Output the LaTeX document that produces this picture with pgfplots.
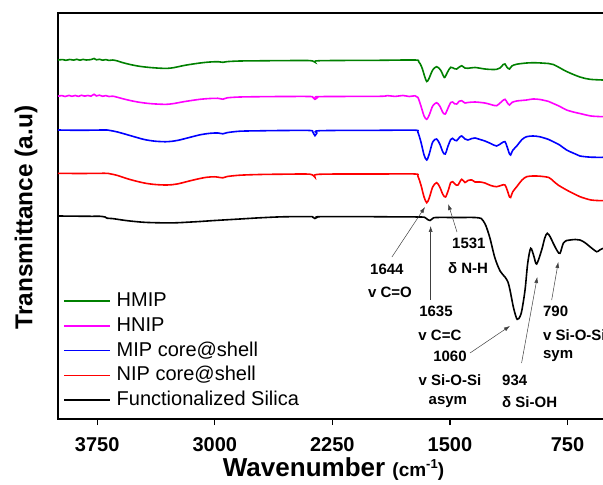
\documentclass[border=0pt]{standalone}
\usepackage{fontspec}
\setmainfont{Liberation Sans}
\usepackage{pgfplots}
\pgfplotsset{compat=1.18}
\usetikzlibrary{arrows.meta}

\definecolor{cHMIP}{RGB}{0,128,0}
\definecolor{cHNIP}{RGB}{255,0,255}
\definecolor{cMIP}{RGB}{0,0,255}
\definecolor{cNIP}{RGB}{255,0,0}

\newcommand{\annfont}{\bfseries\fontsize{15}{17}\selectfont}

\begin{document}
\begin{tikzpicture}
\begin{axis}[
  at={(0,0)}, anchor=south west,
  scale only axis, width=547pt, height=406pt,
  x dir=reverse,
  xmin=511, xmax=4000, ymin=0, ymax=406,
  axis line style={line width=1.3pt, black},
  xtick pos=left,
  xtick={3750,3000,2250,1500,750},
  xticklabels={3750,3000,2250,1500,750},
  xticklabel style={font=\bfseries\fontsize{20}{24}\selectfont, anchor=base, yshift=-26pt},
  ytick=\empty,
  tick align=outside, major tick length=6pt,
  tick style={line width=1.3pt, black},
  clip mode=individual,
  every axis plot/.append style={line width=1.6pt, smooth, tension=0.5},
  legend style={draw=none, fill=none, at={(0.0097,0.314)}, anchor=north west,
    inner sep=0pt, row sep=5.75pt, column sep=5.7pt,
    font=\fontsize{20}{24}\selectfont,
    nodes={inner sep=0pt, text height=15pt, text depth=4pt}},
  legend cell align=left,
  legend image code/.code={\draw[#1, line width=1.5pt] (0pt,0pt) -- (46pt,0pt);},
]
% HMIP
\addplot[cHMIP] coordinates {
(4000,359.0) (3970,359.4) (3950,358.7) (3925,359.5) (3900,358.9) (3880,359.7)
(3860,358.8) (3840,359.6) (3820,359.0) (3790,359.4) (3770,360.5) (3755,359.2)
(3735,359.7) (3715,358.8) (3695,359.4) (3675,358.6) (3650,359.0) (3620,358.0)
(3590,356.5) (3540,354.5) (3480,352.7) (3413,351.5) (3350,350.8) (3305,350.6)
(3260,351.4) (3190,353.7) (3094,356.0) (3030,357.0) (2980,357.3) (2948,356.7)
(2920,357.4) (2839,358.0) (2712,358.2) (2565,358.4) (2393,358.4) (2361,356.8)
(2330,358.3) (1946,358.7) (1723,359.0) (1700,357.5) (1680,352) (1660,342)
(1648,337.5) (1635,340) (1610,349) (1585,352.3) (1560,349) (1540,342.5)
(1532,341.7) (1515,347) (1495,351.7) (1470,350.2) (1457,350) (1440,352)
(1425,353.3) (1405,351) (1385,350.7) (1340,351.5) (1277,350) (1230,349.5)
(1202,349.7) (1180,351) (1160,354.5) (1149,355) (1135,351.5) (1120,350)
(1105,353) (1074,354.8) (1011,356) (970,356.3) (900,355.8) (841,354.5)
(756,347.5) (671,342) (607,339.7) (524,339)
};
% HNIP
\addplot[cHNIP] coordinates {
(4000,322.8) (3975,323.4) (3955,322.5) (3930,323.6) (3911,322.7) (3890,323.5)
(3870,322.6) (3850,323.7) (3830,322.9) (3809,323.5) (3790,322.8) (3770,324.7)
(3755,323.1) (3735,323.8) (3715,322.7) (3695,323.4) (3675,322.5) (3650,322.8)
(3620,321.7) (3590,320.4) (3540,318.5) (3480,316.7) (3413,315.4) (3350,314.8)
(3305,314.7) (3260,315.5) (3190,317.5) (3094,319.7) (3030,320.5) (2980,320.7)
(2948,319.8) (2920,321.2) (2839,322) (2712,322.3) (2565,322.5) (2393,322.5)
(2375,321.7) (2361,319.7) (2345,321.5) (2330,322.4) (1946,322.7) (1900,323.4)
(1850,322.6) (1800,323.5) (1760,322.5) (1723,323.2) (1704,321.5) (1685,313)
(1665,303) (1648,299.7) (1632,304) (1610,313) (1585,316.3) (1565,313)
(1545,306.5) (1530,305) (1512,311) (1495,316.5) (1483,317) (1470,315.2)
(1457,315) (1440,317.8) (1425,318.3) (1404,316) (1385,316.5) (1340,317)
(1277,316) (1240,314.5) (1202,313.3) (1170,317.5) (1149,319.7) (1135,316.5)
(1120,314) (1105,316.5) (1074,318) (1011,319) (970,320) (926,319.5)
(870,317.5) (841,315.5) (798,312.5) (756,309) (700,306.5) (671,305.5)
(600,303) (524,302.3)
};
% MIP core@shell
\addplot[cMIP] coordinates {
(4000,289) (3860,288.7) (3700,289) (3668,288.5) (3620,287) (3541,283.5)
(3450,279.5) (3380,277.8) (3305,277.3) (3240,278.5) (3150,282) (3094,284.2)
(3030,285.7) (2980,286) (2948,285.2) (2920,286.4) (2839,287.8) (2712,288.2)
(2565,288.5) (2393,288.5) (2375,287) (2361,283.3) (2349,286) (2330,288.3)
(1946,288.7) (1723,288.8) (1705,287) (1685,277) (1665,264) (1648,259)
(1632,265) (1610,277) (1585,280) (1565,275) (1545,267) (1530,265)
(1512,273) (1495,279.5) (1483,280.7) (1470,278.8) (1457,278.3) (1440,281.5)
(1425,283) (1404,280) (1385,279) (1360,280.5) (1340,281) (1308,279.5)
(1277,278) (1240,275.5) (1202,273) (1170,276) (1149,277.3) (1135,272)
(1120,265) (1113,264) (1100,268.5) (1074,273) (1040,279.5) (1011,282.3)
(970,283) (926,282.2) (870,279.5) (841,277.3) (800,274) (756,269)
(700,265) (671,263) (600,261.8) (524,261.7)
};
% NIP core@shell
\addplot[cNIP] coordinates {
(4000,245.7) (3860,245.5) (3700,245.7) (3668,245.2) (3620,243.5) (3541,239.5)
(3450,236) (3380,234.5) (3305,234) (3240,235) (3150,238.5) (3094,240.5)
(3052,241.7) (3000,242.2) (2948,241.2) (2920,242.5) (2839,243.8) (2712,244.5)
(2565,244.8) (2393,244.8) (2361,241.7) (2335,244.7) (1946,245) (1723,245)
(1705,243) (1685,234) (1665,222) (1648,216.3) (1632,221) (1610,232)
(1585,236.3) (1565,232) (1545,224.5) (1528,222) (1510,229) (1495,236.5)
(1483,237.3) (1465,234.5) (1449,234) (1425,239.7) (1404,236.5) (1385,238.5)
(1360,239) (1340,237) (1308,237) (1277,236) (1240,233.5) (1202,232.3)
(1170,233.8) (1149,234) (1135,229) (1120,222) (1113,221.5) (1100,227)
(1074,232.3) (1040,239) (1011,242.3) (970,243) (926,242.8) (870,241.5)
(841,238) (810,234) (756,229) (700,224.5) (671,222.3) (600,219) (524,218.3)
};
% Functionalized Silica
\addplot[black] coordinates {
(4000,203) (3800,202.7) (3732,202.7) (3700,202) (3687,200.8) (3650,200.4)
(3600,199.2) (3541,198) (3450,196.7) (3350,196.2) (3250,196.2) (3150,197)
(3094,197.5) (3000,198.5) (2839,200) (2712,201.2) (2565,202.2) (2393,202.4)
(2375,201.8) (2361,200.5) (2345,201.8) (2330,202.3) (2100,202.4) (1900,202.2)
(1691,202) (1660,201.5) (1640,199.2) (1627,198.5) (1610,200.5) (1589,201.5)
(1450,201.5) (1340,201.5) (1300,200.5) (1287,198) (1270,193) (1245,181)
(1213,161) (1180,148) (1149,142) (1130,137) (1117,129) (1096,112.3)
(1080,103) (1071,99.7) (1060,100.5) (1043,107.3) (1021,129) (1004,155.7)
(985,170.7) (965,163) (947,155) (915,169) (895,181) (879,185.7)
(860,182) (841,175.7) (815,168) (798,165.7) (777,175.7) (755,178.5)
(734,179) (700,179.5) (671,179) (640,176.5) (607,172.3) (564,167.3)
(545,169) (524,170.7)
};
\legend{HMIP, HNIP, MIP core@shell, NIP core@shell, Functionalized Silica}

% band assignments
\begin{scope}[every node/.style={font=\annfont, inner sep=0pt}]
\node at (axis cs:1902,150) {1644};
\node at (axis cs:1882,127) {v C=O};
\node at (axis cs:1589,108) {1635};
\node at (axis cs:1564,84) {v C=C};
\node at (axis cs:1500,63) {1060};
\node at (axis cs:1500,39) {v Si-O-Si};
\node at (axis cs:1513,17.3) {asym};
\node[anchor=west] at (axis cs:1168,39) {934};
\node[anchor=west] at (axis cs:1168,17.3) {δ Si-OH};
\node[anchor=west] at (axis cs:907,107.3) {790};
\node[anchor=west] at (axis cs:907,84) {v Si-O-Si};
\node[anchor=west] at (axis cs:907,63) {sym};
\node at (axis cs:1379,175.7) {1531};
\node at (axis cs:1385,150.7) {δ N-H};
\end{scope}
\begin{scope}[black!75, line width=0.5pt, -{Latex[length=6pt,width=4pt]}]
\draw (axis cs:1870,162) -- (axis cs:1659,212);
\draw (axis cs:1623,119) -- (axis cs:1623,193);
\draw (axis cs:1455,187) -- (axis cs:1511,215);
\draw (axis cs:1372,66) -- (axis cs:1117,93);
\draw (axis cs:1043,56) -- (axis cs:943,142);
\draw (axis cs:851,119) -- (axis cs:809,157);
\end{scope}

\node[font=\bfseries\fontsize{24.4}{28}\selectfont, rotate=90]
  at (axis description cs:-0.0585,0.496) {Transmittance (a.u)};
\node[font=\bfseries\fontsize{26}{30}\selectfont, anchor=base]
  at (axis description cs:0.5037,-0.1404)
  {Wavenumber {\fontsize{19}{22}\selectfont(cm\raisebox{8pt}{\fontsize{13}{14}\selectfont -1})}};
\end{axis}
\pgfresetboundingbox
\path[use as bounding box] (-58pt,-66pt) rectangle (545pt,419pt);
\end{tikzpicture}
\end{document}
